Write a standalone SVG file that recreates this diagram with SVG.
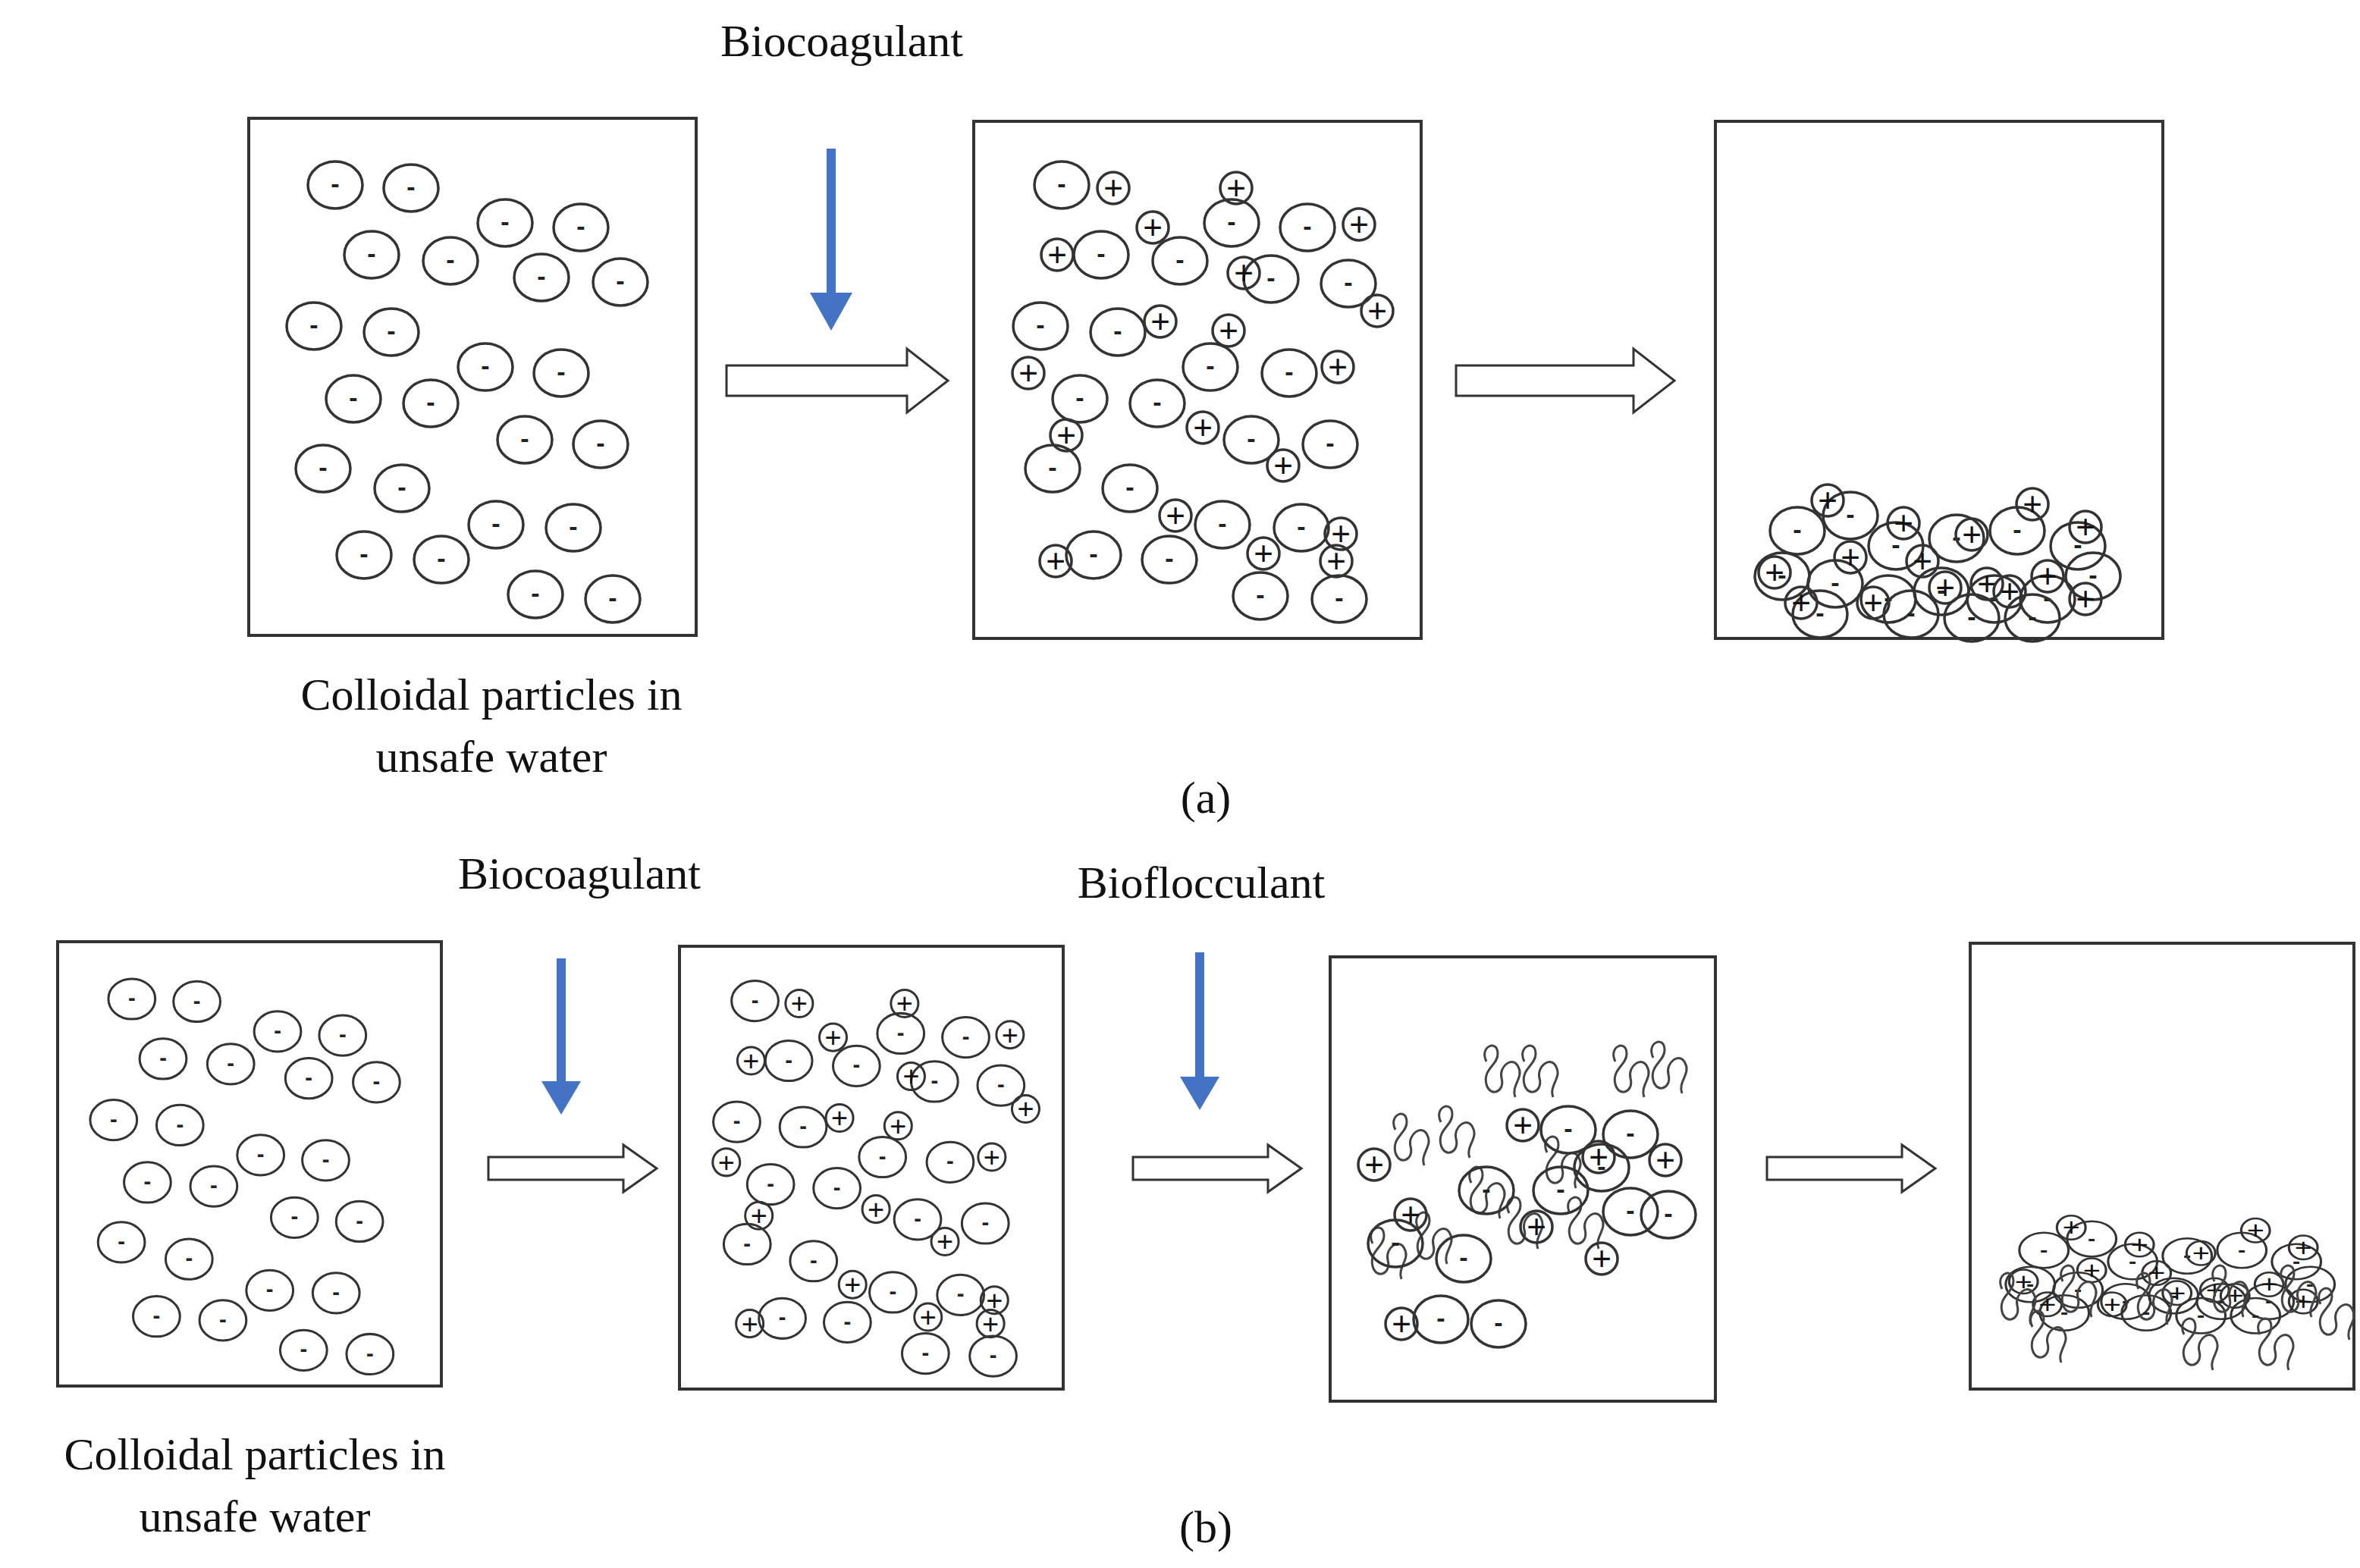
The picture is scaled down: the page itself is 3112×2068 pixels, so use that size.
<svg xmlns="http://www.w3.org/2000/svg" xmlns:xlink="http://www.w3.org/1999/xlink" width="3112" height="2068" viewBox="0 0 3112 2068">
<style>
.box{fill:#fff;stroke:#333;stroke-width:4}
.lbl{font-family:"Liberation Serif",serif;font-size:60px;fill:#111;text-anchor:middle}
.p{fill:none;stroke:#333;stroke-width:3.5}
.s{font-family:"Liberation Sans",sans-serif;font-size:34px;font-weight:bold;fill:#222;text-anchor:middle}
.ps{font-family:"Liberation Sans",sans-serif;font-size:44px;fill:#111;text-anchor:middle}
.hol{fill:#fff;stroke:#333;stroke-width:3}
.blue{fill:#4472c4}
.sq{fill:none;stroke:#444;stroke-width:3}
</style>
<defs>
<g id="m"><ellipse class="p" rx="36" ry="31"/><text class="s" y="10">-</text></g>
<g id="pl"><circle class="p" r="21"/><text class="ps" y="15">+</text></g>
<g id="sqA"><path class="sq" d="M0,0 c-10,-20 15,-30 15,-10 c0,15 -20,20 -15,40 c5,18 25,10 20,-8 c-4,-16 15,-30 22,-15 c8,14 -10,25 -4,40"/></g>
<g id="a1p">
<use href="#m" x="442" y="244"/><use href="#m" x="542" y="248"/><use href="#m" x="666" y="294"/><use href="#m" x="766" y="300"/>
<use href="#m" x="490" y="336"/><use href="#m" x="594" y="344"/><use href="#m" x="714" y="366"/><use href="#m" x="818" y="372"/>
<use href="#m" x="414" y="430"/><use href="#m" x="516" y="438"/><use href="#m" x="640" y="484"/><use href="#m" x="740" y="492"/>
<use href="#m" x="466" y="526"/><use href="#m" x="568" y="532"/><use href="#m" x="692" y="580"/><use href="#m" x="792" y="586"/>
<use href="#m" x="426" y="618"/><use href="#m" x="530" y="644"/><use href="#m" x="654" y="692"/><use href="#m" x="756" y="696"/>
<use href="#m" x="480" y="732"/><use href="#m" x="582" y="738"/><use href="#m" x="706" y="784"/><use href="#m" x="808" y="790"/>
</g>
<g id="a2p">
<use href="#m" x="1400" y="244"/><use href="#m" x="1624" y="294"/><use href="#m" x="1724" y="300"/><use href="#m" x="1452" y="336"/>
<use href="#m" x="1556" y="344"/><use href="#m" x="1676" y="368"/><use href="#m" x="1778" y="374"/><use href="#m" x="1372" y="430"/>
<use href="#m" x="1474" y="438"/><use href="#m" x="1596" y="484"/><use href="#m" x="1700" y="492"/><use href="#m" x="1424" y="526"/>
<use href="#m" x="1526" y="532"/><use href="#m" x="1650" y="580"/><use href="#m" x="1754" y="586"/><use href="#m" x="1388" y="618"/>
<use href="#m" x="1490" y="644"/><use href="#m" x="1612" y="692"/><use href="#m" x="1716" y="696"/><use href="#m" x="1442" y="732"/>
<use href="#m" x="1542" y="738"/><use href="#m" x="1662" y="786"/><use href="#m" x="1766" y="790"/>
<use href="#pl" x="1468" y="248"/><use href="#pl" x="1630" y="248"/><use href="#pl" x="1520" y="300"/><use href="#pl" x="1792" y="296"/>
<use href="#pl" x="1394" y="336"/><use href="#pl" x="1640" y="360"/><use href="#pl" x="1816" y="410"/><use href="#pl" x="1530" y="424"/>
<use href="#pl" x="1620" y="436"/><use href="#pl" x="1356" y="492"/><use href="#pl" x="1764" y="484"/><use href="#pl" x="1406" y="574"/>
<use href="#pl" x="1586" y="564"/><use href="#pl" x="1692" y="614"/><use href="#pl" x="1550" y="680"/><use href="#pl" x="1768" y="704"/>
<use href="#pl" x="1666" y="730"/><use href="#pl" x="1762" y="740"/><use href="#pl" x="1392" y="740"/>
</g>
<g id="pile">
<use href="#m" x="2370" y="700"/><use href="#m" x="2440" y="680"/><use href="#m" x="2500" y="720"/><use href="#m" x="2580" y="710"/>
<use href="#m" x="2660" y="700"/><use href="#m" x="2740" y="720"/><use href="#m" x="2350" y="760"/><use href="#m" x="2420" y="770"/>
<use href="#m" x="2490" y="790"/><use href="#m" x="2560" y="780"/><use href="#m" x="2630" y="790"/><use href="#m" x="2700" y="790"/>
<use href="#m" x="2760" y="760"/><use href="#m" x="2400" y="810"/><use href="#m" x="2520" y="810"/><use href="#m" x="2600" y="815"/><use href="#m" x="2680" y="815"/>
<use href="#pl" x="2410" y="660"/><use href="#pl" x="2510" y="690"/><use href="#pl" x="2600" y="705"/><use href="#pl" x="2680" y="665"/>
<use href="#pl" x="2750" y="695"/><use href="#pl" x="2340" y="755"/><use href="#pl" x="2440" y="735"/><use href="#pl" x="2535" y="740"/>
<use href="#pl" x="2620" y="770"/><use href="#pl" x="2700" y="760"/><use href="#pl" x="2375" y="795"/><use href="#pl" x="2565" y="775"/>
<use href="#pl" x="2650" y="780"/><use href="#pl" x="2750" y="790"/><use href="#pl" x="2470" y="795"/>
</g>
</defs>

<g id="labels">
<text class="lbl" x="1110" y="74">Biocoagulant</text>
<text class="lbl" x="648" y="936">Colloidal particles in</text>
<text class="lbl" x="648" y="1018">unsafe water</text>
<text class="lbl" x="1590" y="1072">(a)</text>
<text class="lbl" x="764" y="1172">Biocoagulant</text>
<text class="lbl" x="1584" y="1184">Bioflocculant</text>
<text class="lbl" x="336" y="1938">Colloidal particles in</text>
<text class="lbl" x="336" y="2020">unsafe water</text>
<text class="lbl" x="1590" y="2034">(b)</text>
</g>

<g id="a1"><rect class="box" x="328" y="156" width="590" height="682"/><use href="#a1p"/></g>
<g id="a2"><rect class="box" x="1284" y="160" width="590" height="682"/><use href="#a2p"/></g>
<g id="a3"><rect class="box" x="2262" y="160" width="590" height="682"/><use href="#pile"/></g>

<g id="b1"><rect class="box" x="76" y="1242" width="506" height="586"/><use href="#a1p" transform="translate(76,1242) scale(0.858) translate(-328,-156)"/></g>
<g id="b2"><rect class="box" x="896" y="1248" width="506" height="584"/><use href="#a2p" transform="translate(896,1248) scale(0.858) translate(-1284,-160)"/></g>
<g id="b3"><rect class="box" x="1754" y="1262" width="508" height="586"/>
<use href="#sqA" x="1840" y="1490"/><use href="#sqA" x="1900" y="1480"/><use href="#sqA" x="1960" y="1400"/><use href="#sqA" x="2010" y="1400"/>
<use href="#sqA" x="2130" y="1400"/><use href="#sqA" x="2180" y="1395"/><use href="#sqA" x="2040" y="1520"/><use href="#sqA" x="1990" y="1600"/>
<use href="#sqA" x="1810" y="1640"/><use href="#sqA" x="1870" y="1620"/><use href="#sqA" x="2070" y="1600"/><use href="#sqA" x="1940" y="1560"/>
<use href="#m" x="2068" y="1490"/><use href="#m" x="2150" y="1496"/><use href="#m" x="1960" y="1570"/><use href="#m" x="2058" y="1570"/>
<use href="#m" x="2150" y="1598"/><use href="#m" x="2200" y="1602"/><use href="#m" x="1840" y="1640"/><use href="#m" x="1930" y="1660"/>
<use href="#m" x="1900" y="1740"/><use href="#m" x="1976" y="1746"/><use href="#m" x="2112" y="1540"/>
<use href="#pl" x="1812" y="1536"/><use href="#pl" x="2008" y="1484"/><use href="#pl" x="2108" y="1526"/><use href="#pl" x="2196" y="1530"/>
<use href="#pl" x="1860" y="1602"/><use href="#pl" x="2026" y="1618"/><use href="#pl" x="2112" y="1660"/><use href="#pl" x="1848" y="1746"/>
</g>
<g id="b4"><rect class="box" x="2598" y="1244" width="506" height="588"/>
<use href="#pile" transform="translate(2598,1244) scale(0.9,0.75) translate(-2262,-160)"/>
<use href="#sqA" x="2640" y="1700"/><use href="#sqA" x="2720" y="1690"/><use href="#sqA" x="2820" y="1700"/><use href="#sqA" x="2920" y="1690"/><use href="#sqA" x="3010" y="1690"/><use href="#sqA" x="3060" y="1720"/>
<use href="#sqA" x="2680" y="1750"/><use href="#sqA" x="2880" y="1760"/><use href="#sqA" x="2980" y="1760"/>
</g>

<g id="connectors">
<polygon class="blue" points="1090,196 1102,196 1102,386 1124,386 1096,436 1068,386 1090,386"/>
<polygon class="blue" points="734,1264 746,1264 746,1426 766,1426 740,1470 714,1426 734,1426"/>
<polygon class="blue" points="1576,1256 1588,1256 1588,1420 1608,1420 1582,1464 1556,1420 1576,1420"/>
<polygon class="hol" points="958,482 1196,482 1196,460 1250,502 1196,544 1196,522 958,522"/>
<polygon class="hol" points="1920,482 2154,482 2154,460 2208,502 2154,544 2154,522 1920,522"/>
<polygon class="hol" points="644,1526 822,1526 822,1510 866,1541 822,1572 822,1556 644,1556"/>
<polygon class="hol" points="1494,1526 1672,1526 1672,1510 1716,1541 1672,1572 1672,1556 1494,1556"/>
<polygon class="hol" points="2330,1526 2508,1526 2508,1510 2552,1541 2508,1572 2508,1556 2330,1556"/>
</g>
</svg>
